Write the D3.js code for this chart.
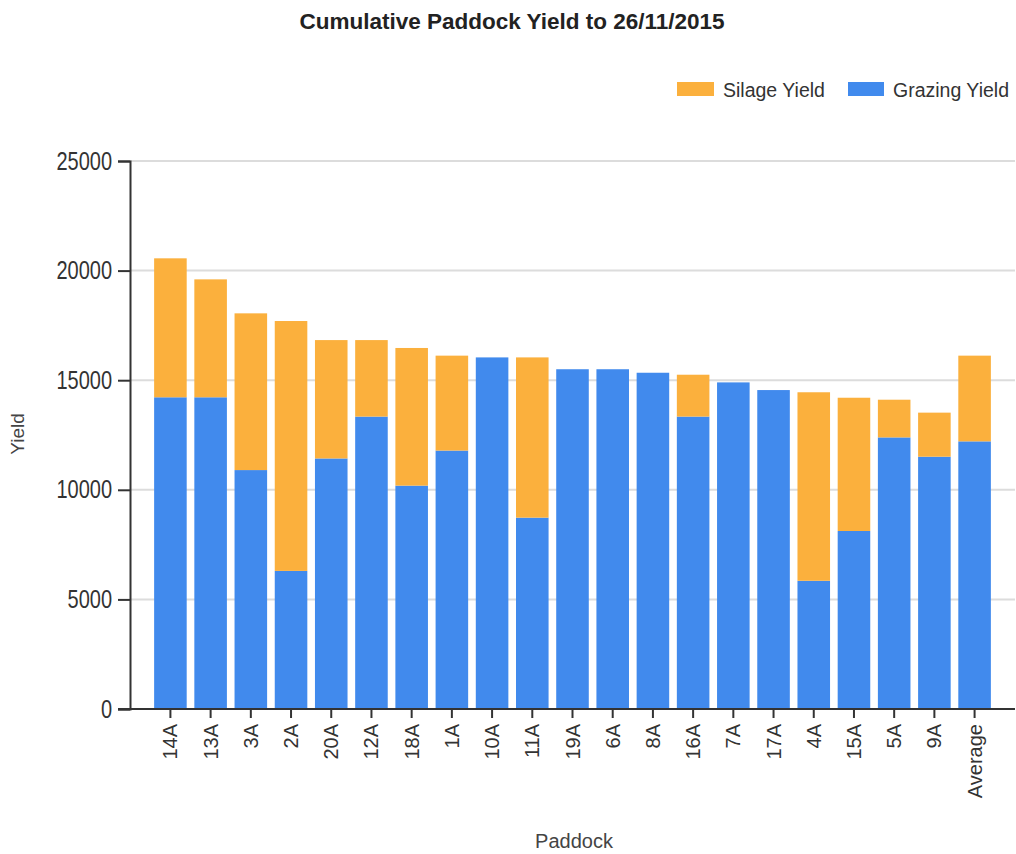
<!DOCTYPE html>
<html>
<head>
<meta charset="utf-8">
<script src="https://cdn.jsdelivr.net/npm/d3@7"></script>
<style>
  body { margin: 0; background: #fff; }
  text { font-family: "Liberation Sans", Arial, sans-serif; }
</style>
</head>
<body>
<div id="chart"></div>
<script>
// Paddock yield data
const paddocks = ['14A', '13A', '3A', '2A', '20A', '12A', '18A', '1A', '10A', '11A', '19A',
  '6A', '8A', '16A', '7A', '17A', '4A', '15A', '5A', '9A', 'Average']
const grazingYield = [14220, 14220, 10900, 6300, 11430, 13340, 10190, 11790, 16040, 8730, 15500,
  15500, 15340, 13340, 14900, 14550, 5850, 8120, 12390, 11510, 12210]
const silageYield = [6340, 5380, 7150, 11400, 5400, 3490, 6280, 4330, 0, 7310, 0,
  0, 0, 1910, 0, 0, 8600, 6080, 1720, 2010, 3910]
const yTicks = [0, 5000, 10000, 15000, 20000, 25000]

const width = 1016
const height = 854
const margin = { top: 161, right: 1, bottom: 145, left: 130 }

const colors = { grazing: '#418aed', silage: '#fbb03d' }

const svg = d3.select('#chart')
  .append('svg')
  .attr('width', width)
  .attr('height', height)

const rows = paddocks.map((p, i) => ({ paddock: p, grazing: grazingYield[i], silage: silageYield[i] }))

const x = d3.scaleBand()
  .domain(paddocks)
  .range([margin.left, width - margin.right])
  .paddingInner(0.19)
  .paddingOuter(0.6)

const y = d3.scaleLinear()
  .domain([0, 25000])
  .range([height - margin.bottom, margin.top])

// Gridlines
svg.append('g')
  .selectAll('line')
  .data(yTicks.slice(1))
  .enter().append('line')
  .attr('x1', margin.left)
  .attr('x2', width - margin.right)
  .attr('y1', d => y(d))
  .attr('y2', d => y(d))
  .attr('stroke', '#dcdcdc')
  .attr('stroke-width', 2)

// Stacked bars
const stack = d3.stack().keys(['grazing', 'silage'])
const series = stack(rows)

svg.append('g')
  .selectAll('g')
  .data(series)
  .enter().append('g')
  .attr('fill', d => colors[d.key])
  .selectAll('rect')
  .data(d => d)
  .enter().append('rect')
  .attr('x', d => x(d.data.paddock))
  .attr('width', x.bandwidth())
  .attr('y', d => y(d[1]))
  .attr('height', d => y(d[0]) - y(d[1]))

// Y axis
const yAxis = svg.append('g')
  .attr('transform', `translate(${margin.left},0)`)
  .call(d3.axisLeft(y).tickValues(yTicks).tickFormat(d3.format('d')).tickSizeOuter(0).tickSize(12).tickPadding(6))
yAxis.select('.domain').attr('stroke', '#333').attr('stroke-width', 2)
yAxis.selectAll('.tick line').attr('stroke', '#333').attr('stroke-width', 2)
yAxis.selectAll('.tick text')
  .attr('fill', '#333')
  .attr('transform', 'scale(1,1.25)')
  .style('font-size', '20px')

// X axis
const xAxis = svg.append('g')
  .attr('transform', `translate(0,${height - margin.bottom})`)
  .call(d3.axisBottom(x).tickSizeOuter(0).tickSize(9))
xAxis.select('.domain').attr('stroke', '#333').attr('stroke-width', 2)
  .attr('d', `M${margin.left - 12},0H${width - margin.right}`)
xAxis.selectAll('.tick line').attr('stroke', '#333').attr('stroke-width', 2)
xAxis.selectAll('.tick text')
  .attr('fill', '#333')
  .style('font-size', '20px')
  .attr('text-anchor', 'end')
  .attr('transform', 'rotate(-90)')
  .attr('x', -15)
  .attr('y', 0)
  .attr('dy', '0.35em')

// Title
svg.append('text')
  .text('Cumulative Paddock Yield to 26/11/2015')
  .attr('x', 512)
  .attr('y', 29)
  .attr('text-anchor', 'middle')
  .attr('fill', '#222')
  .style('font-size', '22.5px')
  .style('font-weight', 'bold')

// Axis titles
svg.append('text')
  .text('Paddock')
  .attr('x', 574)
  .attr('y', 848)
  .attr('text-anchor', 'middle')
  .attr('fill', '#444')
  .style('font-size', '20px')

svg.append('text')
  .text('Yield')
  .attr('transform', 'translate(24,434) rotate(-90)')
  .attr('text-anchor', 'middle')
  .attr('fill', '#444')
  .style('font-size', '19px')

// Legend
const legendItems = [
  { label: 'Silage Yield', key: 'silage', x: 677, w: 37 },
  { label: 'Grazing Yield', key: 'grazing', x: 848, w: 36 }
]
const legend = svg.append('g').attr('id', 'legend')
legend.selectAll('rect')
  .data(legendItems)
  .enter().append('rect')
  .attr('x', d => d.x)
  .attr('y', 82)
  .attr('width', d => d.w)
  .attr('height', 14)
  .attr('fill', d => colors[d.key])
legend.selectAll('text')
  .data(legendItems)
  .enter().append('text')
  .text(d => d.label)
  .attr('x', d => d.x + d.w + 9)
  .attr('y', 97)
  .attr('fill', '#333')
  .style('font-size', '19.5px')
</script>
</body>
</html>
